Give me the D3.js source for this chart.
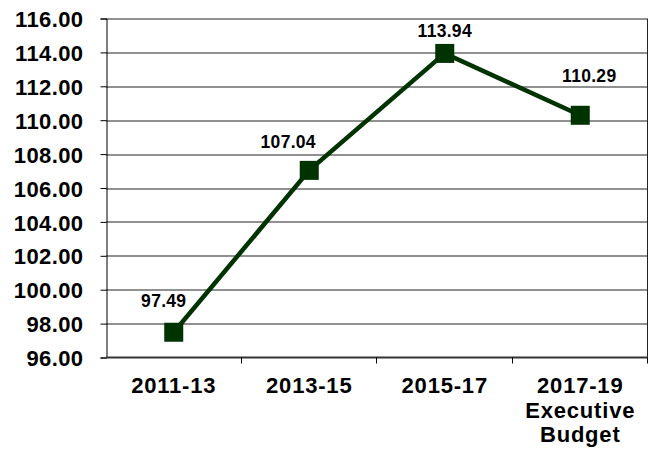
<!DOCTYPE html>
<html>
<head>
<meta charset="utf-8">
<script src="https://cdn.jsdelivr.net/npm/d3@7"></script>
<style>
  body { margin: 0; background: #fff; }
  svg { display: block; }
</style>
</head>
<body>
<div id="chart"></div>
<script>
const categories = ['2011-13', '2013-15', '2015-17', '2017-19\nExecutive\nBudget'];
const values = [97.49, 107.04, 113.94, 110.29];
const yTicks = [96, 98, 100, 102, 104, 106, 108, 110, 112, 114, 116];

const width = 652, height = 453;
const margin = {top: 18.5, right: 4, bottom: 95.5, left: 106};
const innerW = width - margin.left - margin.right;
const innerH = height - margin.top - margin.bottom;
const green = '#003300';

const svg = d3.select('#chart').append('svg')
    .attr('width', width)
    .attr('height', height)
    .attr('font-family', '"Liberation Sans", Arial, sans-serif')
    .attr('font-weight', 'bold');

const g = svg.append('g')
    .attr('transform', `translate(${margin.left},${margin.top})`);

const x = d3.scaleBand()
    .domain(categories)
    .range([0, innerW])
    .padding(0);

const y = d3.scaleLinear()
    .domain([96, 116])
    .range([innerH, 0]);

// Gridlines
g.append('g')
    .selectAll('line')
    .data(yTicks.slice(1))
    .enter().append('line')
    .attr('x1', 0)
    .attr('x2', innerW)
    .attr('y1', d => Math.round(y(d)) + 0.5)
    .attr('y2', d => Math.round(y(d)) + 0.5)
    .attr('stroke', '#222')
    .attr('stroke-width', 1);

// Right border
g.append('line')
    .attr('x1', innerW - 0.5).attr('x2', innerW - 0.5)
    .attr('y1', Math.round(y(116)) + 0.5).attr('y2', innerH)
    .attr('stroke', '#222');

// Y axis
const yAxis = d3.axisLeft(y)
    .tickValues(yTicks)
    .tickSize(6)
    .tickPadding(17)
    .tickFormat(d3.format('.2f'));
const yg = g.append('g')
    .attr('transform', 'translate(0.5,0)')
    .call(yAxis);
yg.select('.domain').attr('stroke', '#000');
yg.selectAll('.tick line').attr('stroke', '#000');
yg.selectAll('.tick text')
    .attr('font-size', 22)
    .attr('font-family', '"Liberation Sans", Arial, sans-serif')
    .attr('font-weight', 'bold')
    .attr('letter-spacing', 0.4)
    .attr('fill', '#000')
    .attr('dy', '0.37em');

// X axis
const xAxis = d3.axisBottom(x).tickSize(0).tickFormat('');
const xg = g.append('g')
    .attr('transform', `translate(0,${innerH})`)
    .call(xAxis);
xg.select('.domain').remove();
xg.append('line')
    .attr('x1', 0).attr('x2', innerW)
    .attr('y1', 0).attr('y2', 0)
    .attr('stroke', '#333')
    .attr('stroke-width', 2);
// Band separator ticks
xg.selectAll('line.sep')
    .data(categories)
    .enter().append('line')
    .attr('class', 'sep')
    .attr('x1', d => Math.round(x(d) + x.bandwidth()) - 0.5)
    .attr('x2', d => Math.round(x(d) + x.bandwidth()) - 0.5)
    .attr('y1', 0)
    .attr('y2', 6)
    .attr('stroke', '#000');

// Category labels
xg.selectAll('text.cat')
    .data(categories)
    .enter().append('text')
    .attr('class', 'cat')
    .attr('text-anchor', 'middle')
    .attr('font-size', 22)
    .attr('letter-spacing', 0.8)
    .attr('fill', '#000')
    .each(function(d) {
        const t = d3.select(this);
        d.split('\n').forEach((line, i) => {
            t.append('tspan')
                .attr('x', x(d) + x.bandwidth() / 2)
                .attr('y', 35.5 + i * 24.5)
                .text(line);
        });
    });

// Line
const pts = values.map((v, i) => ({c: categories[i], v: v}));
const line = d3.line()
    .x(d => x(d.c) + x.bandwidth() / 2)
    .y(d => y(d.v));
g.append('path')
    .datum(pts)
    .attr('d', line)
    .attr('fill', 'none')
    .attr('stroke', green)
    .attr('stroke-width', 4.5);

// Markers
const ms = 19;
g.selectAll('rect.marker')
    .data(pts)
    .enter().append('rect')
    .attr('class', 'marker')
    .attr('x', d => x(d.c) + x.bandwidth() / 2 - ms / 2)
    .attr('y', d => y(d.v) - ms / 2)
    .attr('width', ms)
    .attr('height', ms)
    .attr('fill', green);

// Data labels (offsets as placed in the original)
const labelDx = [-10, -21, 0, 9];
const labelDy = [-25, -22, -16, -33];
g.selectAll('text.val')
    .data(pts)
    .enter().append('text')
    .attr('class', 'val')
    .attr('text-anchor', 'middle')
    .attr('font-size', 17.5)
    .attr('letter-spacing', 0.3)
    .attr('fill', '#000')
    .attr('x', (d, i) => x(d.c) + x.bandwidth() / 2 + labelDx[i])
    .attr('y', (d, i) => y(d.v) + labelDy[i])
    .text(d => d3.format('.2f')(d.v));
</script>
</body>
</html>
